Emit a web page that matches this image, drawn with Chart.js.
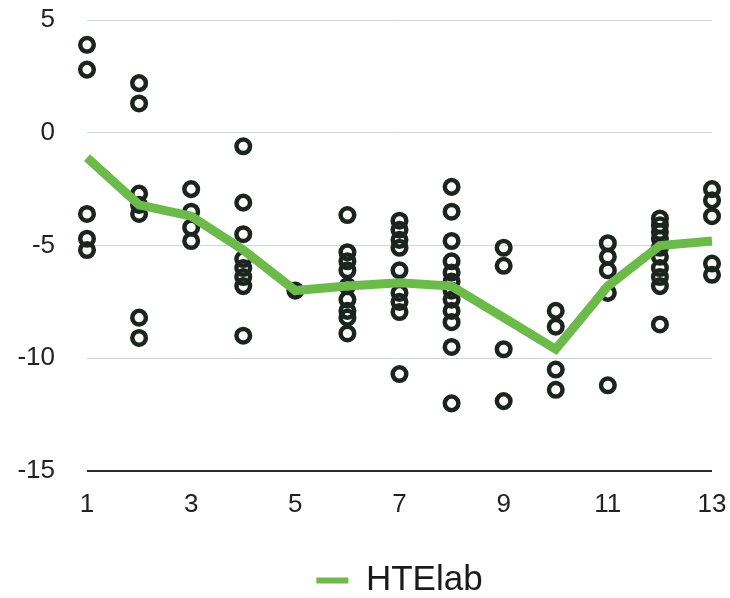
<!DOCTYPE html>
<html>
<head>
<meta charset="utf-8">
<script src="https://cdn.jsdelivr.net/npm/chart.js@4/dist/chart.umd.min.js"></script>
<style>
  html, body { margin: 0; padding: 0; background: #ffffff; }
  #wrap { width: 730px; height: 598px; position: relative; }
</style>
</head>
<body>
<div id="wrap"><canvas id="c" width="730" height="598"></canvas></div>
<script>
// ---- data ----
const groups = [1, 2, 3, 4, 5, 6, 7, 8, 9, 10, 11, 12, 13];
const meanValues = [-1.1, -3.2, -3.7, -5.2, -7.0, -6.8, -6.65, -6.8, -8.2, -9.6, -6.8, -5.0, -4.8];
const obs1 = [3.9, 2.8, -3.6, -4.7, -5.2];
const obs2 = [2.2, 1.3, -2.7, -3.2, -3.6, -8.2, -9.1];
const obs3 = [-2.5, -3.5, -4.2, -4.8];
const obs4 = [-0.6, -3.1, -4.5, -5.6, -6.0, -6.4, -6.8, -9.0];
const obs5 = [-7.0];
const obs6 = [-3.65, -5.3, -5.7, -6.1, -6.8, -7.4, -7.9, -8.2, -8.9];
const obs7 = [-3.9, -4.3, -4.75, -5.1, -6.1, -7.1, -7.5, -7.95, -10.7];
const obs8 = [-2.4, -3.5, -4.8, -5.7, -6.2, -6.6, -7.0, -7.4, -7.9, -8.4, -9.5, -12.0];
const obs9 = [-5.1, -5.9, -9.6, -11.9];
const obs10 = [-7.9, -8.6, -10.5, -11.4];
const obs11 = [-4.9, -5.5, -6.1, -7.1, -11.2];
const obs12 = [-3.8, -4.1, -4.4, -4.7, -5.1, -5.5, -6.0, -6.4, -6.8, -8.5];
const obs13 = [-2.5, -3.0, -3.7, -5.8, -6.3];
const observations = [obs1, obs2, obs3, obs4, obs5, obs6, obs7, obs8, obs9, obs10, obs11, obs12, obs13];
const yTicks = [5, 0, -5, -10, -15];
const seriesName = 'HTElab';

// ---- build datasets ----
const scatterPoints = [];
groups.forEach((g, i) => observations[i].forEach(v => scatterPoints.push({ x: g, y: v })));
const linePoints = groups.map((g, i) => ({ x: g, y: meanValues[i] }));

const FONT = "'Liberation Sans', Arial, Helvetica, sans-serif";

new Chart(document.getElementById('c'), {
  data: {
    datasets: [
      {
        type: 'line',
        label: seriesName,
        data: linePoints,
        borderColor: '#6cba4a',
        backgroundColor: '#6cba4a',
        borderWidth: 9,
        pointRadius: 0,
        tension: 0,
        clip: false,
        borderJoinStyle: 'miter',
        borderCapStyle: 'butt',
        order: 0
      },
      {
        type: 'scatter',
        label: 'obs',
        data: scatterPoints,
        borderColor: '#1c2420',
        backgroundColor: 'rgba(0,0,0,0)',
        borderWidth: 4.5,
        pointRadius: 6.8,
        clip: false,
        order: 1
      }
    ]
  },
  options: {
    responsive: false,
    animation: false,
    devicePixelRatio: 1,
    layout: { autoPadding: false, padding: { top: 0, right: 0, bottom: -10, left: 0 } },
    plugins: {
      tooltip: { enabled: false },
      legend: {
        position: 'bottom',
        fullSize: false,
        labels: {
          filter: (item) => item.text === seriesName,
          generateLabels: (c) => Chart.defaults.plugins.legend.labels.generateLabels(c)
            .map(it => Object.assign(it, { lineWidth: 0, strokeStyle: 'rgba(0,0,0,0)' })),
          boxWidth: 32,
          boxHeight: 6,
          padding: 5,
          color: '#1a1a1a',
          font: { family: FONT, size: 35 }
        }
      }
    },
    scales: {
      x: {
        type: 'linear',
        min: 1,
        max: 13,
        grid: { display: false, drawTicks: false },
        border: { display: false },
        ticks: {
          stepSize: 2,
          padding: 18,
          color: '#222',
          font: { family: FONT, size: 26 }
        },
        afterFit: (s) => { s.height = 87; s.paddingRight = 18; s.paddingLeft = 0; }
      },
      y: {
        type: 'linear',
        min: -15,
        max: 5,
        grid: {
          drawTicks: false,
          color: (ctx) => (ctx.tick && ctx.tick.value === -15) ? '#2a2a2a' : '#cdd6db',
          lineWidth: (ctx) => (ctx.tick && ctx.tick.value === -15) ? 2 : 1
        },
        border: { display: false },
        ticks: {
          stepSize: 5,
          padding: 32,
          color: '#222',
          font: { family: FONT, size: 26 },
          callback: (v) => yTicks.includes(v) ? String(v) : ''
        },
        afterFit: (s) => { s.width = 87; s.paddingTop = 20; s.paddingBottom = 0; }
      }
    }
  }
});
</script>
</body>
</html>
